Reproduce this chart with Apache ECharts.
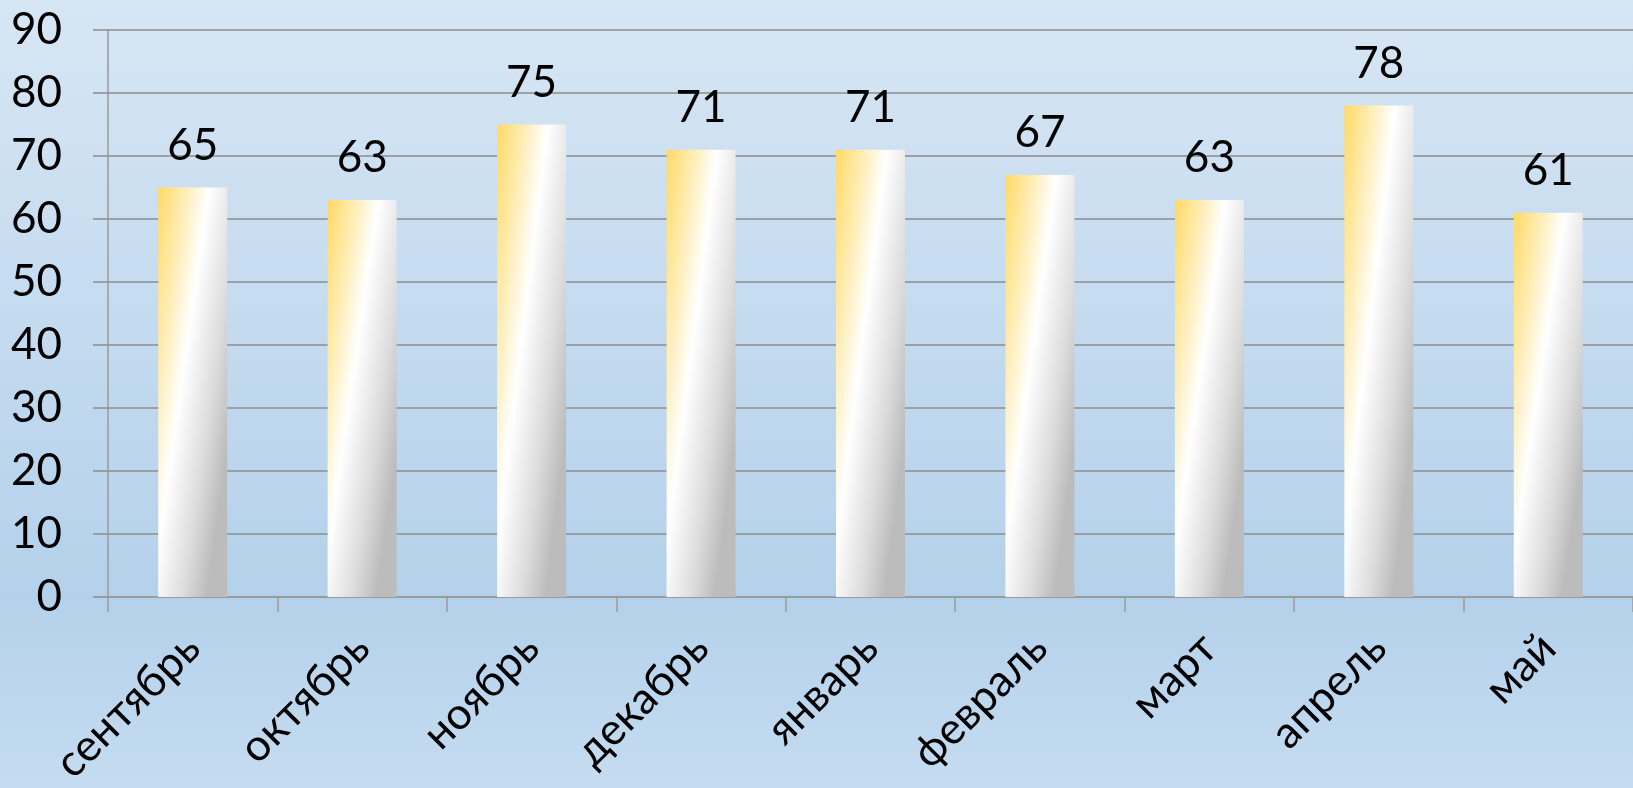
<!DOCTYPE html>
<html><head><meta charset="utf-8">
<script src="https://cdn.jsdelivr.net/npm/echarts@6/dist/echarts.min.js"></script>
<style>html,body{margin:0;padding:0;}#c{width:1633px;height:788px;}</style>
</head><body><div id="c"></div>
<script>
const categories = ['сентябрь','октябрь','ноябрь','декабрь','январь','февраль','март','апрель','май'];
const values = [65, 63, 75, 71, 71, 67, 63, 78, 61];
const yTicks = {min: 0, max: 90, interval: 10};

const FONT = 'Lato';
const PLOT_H = 570, BAR_W = 69;
function barGradient(v) {
  const h = Math.max(v / yTicks.max * PLOT_H, 1), w = BAR_W;
  const A = 0.65, B = 0.55;
  const u0 = A * h / (B * w);
  const s = h / (B * (u0 * u0 + 1));
  return new echarts.graphic.LinearGradient(0, 0, s * u0 / w, s / h, [
    {offset: 0, color: '#ffd966'},
    {offset: 0.22, color: '#ffeaa8'},
    {offset: 0.48, color: '#ffffff'},
    {offset: 0.78, color: '#dcdcdc'},
    {offset: 1, color: '#bcbcbc'}
  ]);
}

const chart = echarts.init(document.getElementById('c'));
chart.setOption({
  backgroundColor: new echarts.graphic.LinearGradient(0, 0, 0, 1, [
    {offset: 0, color: '#d7e6f4'},
    {offset: 0.76, color: '#b4d1eb'},
    {offset: 1, color: '#c5dcf0'}
  ]),
  animation: false,
  grid: {left: 108, right: -5, top: 30, bottom: 188, containLabel: false},
  xAxis: {
    type: 'category',
    data: categories,
    boundaryGap: true,
    axisLine: {show: true, lineStyle: {color: '#9a9a9a', width: 1.5}},
    axisTick: {show: true, length: 15, alignWithLabel: false, lineStyle: {color: '#9a9a9a', width: 1.5}},
    axisLabel: {rotate: 45, margin: 44, color: '#000', fontFamily: FONT, fontSize: 44, interval: 0}
  },
  yAxis: {
    type: 'value',
    min: yTicks.min, max: yTicks.max, interval: yTicks.interval,
    axisLine: {show: true, lineStyle: {color: '#9a9a9a', width: 1.5}},
    axisTick: {show: true, length: 15, lineStyle: {color: '#8c8c8c', width: 1.5}},
    axisLabel: {margin: 46, color: '#000', fontFamily: FONT, fontSize: 44},
    splitLine: {show: true, lineStyle: {color: '#8c8c8c', width: 1.5}}
  },
  series: [{
    type: 'bar',
    data: values.map(v => ({value: v, itemStyle: {color: barGradient(v)}})),
    barWidth: BAR_W,
    label: {show: true, position: 'top', distance: 20, color: '#000', fontFamily: FONT, fontSize: 44}
  }]
});
</script></body></html>
